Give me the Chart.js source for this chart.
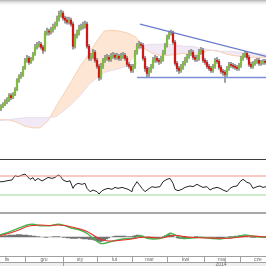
<!DOCTYPE html>
<html>
<head>
<meta charset="utf-8">
<script src="https://cdn.jsdelivr.net/npm/chart.js@4.4.1/dist/chart.umd.min.js"></script>
<style>
  html, body { margin: 0; padding: 0; background: #fff; }
  #wrap { position: relative; width: 266px; height: 266px; overflow: hidden; background: #fff; }
  #wrap canvas, .bar { position: absolute; left: 0; }
  #topbar { top: 0; width: 266px; height: 5px; background: linear-gradient(#b4b4b4, #e4e4e4 45%, #fff); }
  #sep1 { top: 159px; width: 266px; height: 1px; background: #3c3c3c; }
  #sep2 { top: 212px; width: 266px; height: 2px; background: #a8a8a8; }
</style>
</head>
<body>
<div id="wrap">
  <div class="bar" id="topbar"></div>
  <canvas id="priceChart" width="266" height="152" style="top:5px"></canvas>
  <div class="bar" id="sep1"></div>
  <canvas id="rsiChart" width="266" height="51" style="top:160px"></canvas>
  <div class="bar" id="sep2"></div>
  <canvas id="macdChart" width="266" height="42" style="top:214px"></canvas>
  <canvas id="axisChart" width="266" height="10" style="top:256px"></canvas>
</div>
<script>
// daily candles (price units), open = previous close
const firstOpen = 92
const closes = [94,96,99,100,105,103,106,111,120,124,
  125,132,140,142,138,141,146,153,155,156,
  153,150,167,169,168,170,173,175,181,185,
  187,182,180,178,180,176,154,164,167,172,
  173,174,176,154,142,144,148,140,134,123,
  134,140,142,143,141,144,145,143,144,142,
  144,145,142,136,134,130,134,148,154,156,
  155,142,132,127,130,134,140,142,140,139,
  141,148,155,163,167,168,158,137,132,130,
  133,137,140,144,147,148,143,141,142,148,
  150,140,138,134,132,130,134,140,139,133,
  129,128,126,132,136,135,134,133,132,135,
  142,145,147,143,136,134,137,139,140,137,
  138,139,138]
const highs = [96,98,101,103,107,107,108,113,122,126,
  128,134,142,145,144,143,148,156,158,159,
  158,155,169,172,171,173,176,178,184,189,
  190,189,184,183,183,182,178,166,170,175,
  176,178,179,178,156,147,151,150,142,136,
  137,142,145,146,145,147,148,147,147,146,
  147,148,147,144,138,136,136,150,157,159,
  158,157,144,134,133,136,143,145,144,142,
  144,150,157,165,169,170,169,160,139,134,
  136,139,143,146,150,151,150,145,145,151,
  153,152,142,140,136,134,136,142,143,141,
  135,131,130,134,138,138,137,136,135,137,
  144,147,149,149,145,138,139,141,142,142,
  140,141,141]
const lows = [90,93,95,97,99,101,102,105,110,118,
  122,124,131,138,136,137,140,145,151,153,
  151,147,149,165,165,166,168,171,174,179,
  183,180,177,176,176,174,151,152,162,165,
  170,171,172,152,140,140,142,138,132,120,
  121,132,138,140,139,139,142,141,141,140,
  140,142,140,134,132,128,128,132,146,152,
  152,140,129,123,124,128,132,138,138,136,
  137,139,146,153,161,165,156,135,129,127,
  128,131,135,138,142,145,141,139,139,140,
  146,138,136,132,130,128,128,132,137,131,
  127,125,118,124,130,133,132,131,130,130,
  133,140,143,141,134,132,132,135,137,135,
  135,136,136]

// ichimoku cloud, sampled at these candle positions
const cloudAt = [-0.5,3.5,7.5,11.5,15.5,19.5,23.5,27.5,31.5,35.5,39.5,43.5,47.5,51.5,55.5,59.5,63.5,
  67.5,71.5,75.5,79.5,83.5,87.5,91.5,95.5,99.5,103.5,107.5,111.5,115.5,119.5,123.5,127.5,132.5]
const spanA = [81,81,79,75,73,73,80,94,107,120,134,145,158,169,170,169,167,
  163,152,147,145,145,146,147,145,146,150,150,147,145,144,143,143,143]
const spanB = [80,81,82,83,83,83,83,84,90,97,105,115,122,128,130,132,135,
  148,155,156,156,156,155,154,154,152,151,149,149,149,148,147,147,146]

// triangle lines
const topLineAt = [69.5, 132.5]
const topLine = [176, 144]
const bottomLineAt = [68, 132.5]
const bottomLine = [123, 123]

// oscillator (rsi)
const rsiAt = [-0.5,1,3,5.5,7,8.5,10.5,12,13,14.5,16,17,18.5,20.5,22,23.5,25.5,27,28.5,29.5,
  31,33,34.5,36,37,38.5,40.5,42,43,44.5,46,48,49,50.5,52,53.5,55.5,57,58.5,60.5,62,63.5,65.5,
  66,68,69,70.5,72,73.5,75.5,77,79.5,81,83,84.5,86,87,88.5,90.5,92,94.5,96,98,99.5,101,103,
  104.5,106,108,109.5,111,113,114.5,116,118,119.5,121,123,124.5,126,128,129.5,131,132.5]
const rsi = [58,58,60,61.6,70.6,68.6,72,74,70,63,66.5,60,65,59.5,63,67,65,67,72,70.6,
  61.6,58,60,44,51,54.6,52.5,54.6,44,37,40.5,37,32,39,42,44,42,46,44,46,44,42,37,
  45,58,52.5,44,37,42,47.5,46,47.5,58,63,65,54.6,42,39,42,46,49,47.5,52.5,49,46,47.5,
  40.5,44,46,44,40.5,37,44,47.5,49,58,63,56.7,54.6,44,47.5,49,46,47.5]
const rsiHigh = 70
const rsiLow = 30

// macd (x0.001)
const macdAt = [-0.5,4.5,9.5,13,16,19.5,24.5,28.5,32,35.5,39.5,43,46,49.5,52,56,61,66,69.5,73,
  77,81,84.5,87,90.5,94.5,99.5,104.5,109.5,114.5,118.5,122,125.5,129.5,132.5]
const macd = [2,5.3,9.3,12,12.7,11.3,11.3,12.7,11.3,8.7,7,3.7,-1.3,-6.3,-6.3,-4,-2,-1.3,1.3,-1.3,
  -2,-0.7,3.7,2,-1.3,-1.3,-0.3,-1.3,-2,-0.7,0.3,2,1,0,-0.3]
const signal = [1,4,7.5,10.5,11.5,12,11.5,12,11.5,10,8,5.5,2,-2,-3.5,-4,-3,-1.7,-0.5,0,
  -0.8,-0.8,1,1.7,0.8,-0.3,-0.8,-1,-1.3,-1.2,-0.3,0.6,1,0.5,0]
const hist = [1,1,1.5,1.5,2,2,2,2,2.5,2.5,2.5,2,2,2,1.5,1.5,
  1,1,0.5,0.5,0,0,-0.5,-0.5,0,0,0.5,0.5,0.5,0.5,0,
  -0.5,-0.5,-1,-1,-1.5,-1.5,-1.5,-1.5,-1,-1.5,-2,-2,-2,-2.5,-2.5,
  -3,-3.5,-4,-4.5,-5,-4,-3,
  -2,-1,0,0.5,1,1,1,1,1,1,0.5,0.5,0.5,
  1,1.5,2,2,1.5,1,0,
  -1,-1,-1.5,-1.5,-1,-1,-0.5,0,
  0.5,1.5,2,2.5,2,1,0,
  -1,-1.5,-1.5,-1,-1,-0.5,-0.5,0,
  0,0.5,0.5,0,-0.5,-0.5,-0.5,-0.5,-0.5,-0.5,
  -0.5,-0.5,-1,-1,-1,-1,-0.5,0,0.5,0.5,
  0.5,1,1,1.5,1.5,1.5,1,0.5,0,-0.5,
  -0.5,-0.5,0,0,0,0,0]

// time axis
const monthNames = ['lis','gru','sty','lut','mar','kwi','maj','cze']
const monthStarts = [-6,12,31,48,65.5,83,101.5,119.5,137.5]
const yearLabel = '2014'
const yearLabelAt = 110
const yearStart = 31

const xScale = { type: 'linear', min: -0.5, max: 132.5, display: false, offset: false }
const pts = (xs, ys) => xs.map((x, i) => ({ x: x, y: ys[i] }))

function baseOptions(yMin, yMax) {
  return {
    responsive: false,
    animation: false,
    devicePixelRatio: 1,
    layout: { padding: 0 },
    datasets: { bar: { grouped: false } },
    plugins: { legend: { display: false }, tooltip: { enabled: false } },
    scales: {
      x: xScale,
      y: { type: 'linear', min: yMin, max: yMax, display: false }
    }
  }
}

const opens = [firstOpen].concat(closes.slice(0, -1))
const bodies = closes.map((c, i) => ({ x: i, y: [opens[i], c] }))
const wicks = closes.map((c, i) => ({ x: i, y: [lows[i], highs[i]] }))
const bodyColors = closes.map((c, i) => c >= opens[i] ? '#80bd3e' : '#d01818')

new Chart(document.getElementById('priceChart'), {
  type: 'bar',
  data: {
    datasets: [
      {
        type: 'line', data: pts(cloudAt, spanA), borderColor: '#f8cfae', borderWidth: 1,
        pointRadius: 0, tension: 0,
        fill: { target: '+1', above: 'rgba(253,226,205,0.85)', below: 'rgba(240,232,245,0.9)' },
        order: 6
      },
      {
        type: 'line', data: pts(cloudAt, spanB), borderColor: '#e8dcec', borderWidth: 1,
        pointRadius: 0, tension: 0, fill: false, order: 5
      },
      { data: wicks, backgroundColor: '#8c8c8c', barThickness: 1, order: 4 },
      { data: bodies, backgroundColor: bodyColors, barThickness: 1.6, order: 3 },
      {
        type: 'line', data: pts(topLineAt, topLine), borderColor: '#6a7bcc', borderWidth: 1.3,
        pointRadius: 0, fill: false, order: 1
      },
      {
        type: 'line', data: pts(bottomLineAt, bottomLine), borderColor: '#7b8ed6', borderWidth: 1.6,
        pointRadius: 0, fill: false, order: 1
      }
    ]
  },
  options: baseOptions(44, 195)
})

new Chart(document.getElementById('rsiChart'), {
  type: 'line',
  data: {
    datasets: [
      { data: pts([-0.5, 132.5], [rsiHigh, rsiHigh]), borderColor: '#f4928c', borderWidth: 1, pointRadius: 0 },
      { data: pts([-0.5, 132.5], [rsiLow, rsiLow]), borderColor: '#9fd49a', borderWidth: 1, pointRadius: 0 },
      { data: pts(rsiAt, rsi), borderColor: '#262626', borderWidth: 1, pointRadius: 0, tension: 0 }
    ]
  },
  options: baseOptions(-3.7, 103.7)
})

new Chart(document.getElementById('macdChart'), {
  type: 'bar',
  data: {
    datasets: [
      { data: hist.map((v, i) => ({ x: i, y: v })), backgroundColor: '#555', barThickness: 1, order: 3 },
      {
        type: 'line', data: pts(macdAt, macd), borderColor: '#46b84e', borderWidth: 1.4,
        pointRadius: 0, tension: 0.3, order: 2
      },
      {
        type: 'line', data: pts(macdAt, signal), borderColor: '#e8302a', borderWidth: 1.1,
        pointRadius: 0, tension: 0.3, order: 1
      }
    ]
  },
  options: baseOptions(-19, 23)
})

// month strip under the panes
const stripPlugin = {
  id: 'strip',
  afterDraw(chart) {
    const ctx = chart.ctx
    const x = chart.scales.x
    ctx.save()
    ctx.fillStyle = '#eeeeee'
    ctx.fillRect(0, 6, 266, 4)
    ctx.fillStyle = '#a0a0a0'
    ctx.fillRect(0, 0, 266, 1)
    ctx.fillRect(0, 6, 266, 1)
    monthStarts.forEach(m => {
      const px = Math.round(x.getPixelForValue(m))
      ctx.fillRect(px, 0, 1, m === yearStart ? 10 : 6)
    })
    ctx.fillStyle = '#6a6a6a'
    ctx.font = '5px "Liberation Sans", Arial, sans-serif'
    ctx.textAlign = 'center'
    ctx.textBaseline = 'middle'
    monthNames.forEach((name, i) => {
      ctx.fillText(name, x.getPixelForValue((monthStarts[i] + monthStarts[i + 1]) / 2), 3.5)
    })
    ctx.fillText(yearLabel, x.getPixelForValue(yearLabelAt), 8.5)
    ctx.restore()
  }
}

new Chart(document.getElementById('axisChart'), {
  type: 'line',
  data: { datasets: [{ data: [] }] },
  options: baseOptions(0, 1),
  plugins: [stripPlugin]
})
</script>
</body>
</html>
